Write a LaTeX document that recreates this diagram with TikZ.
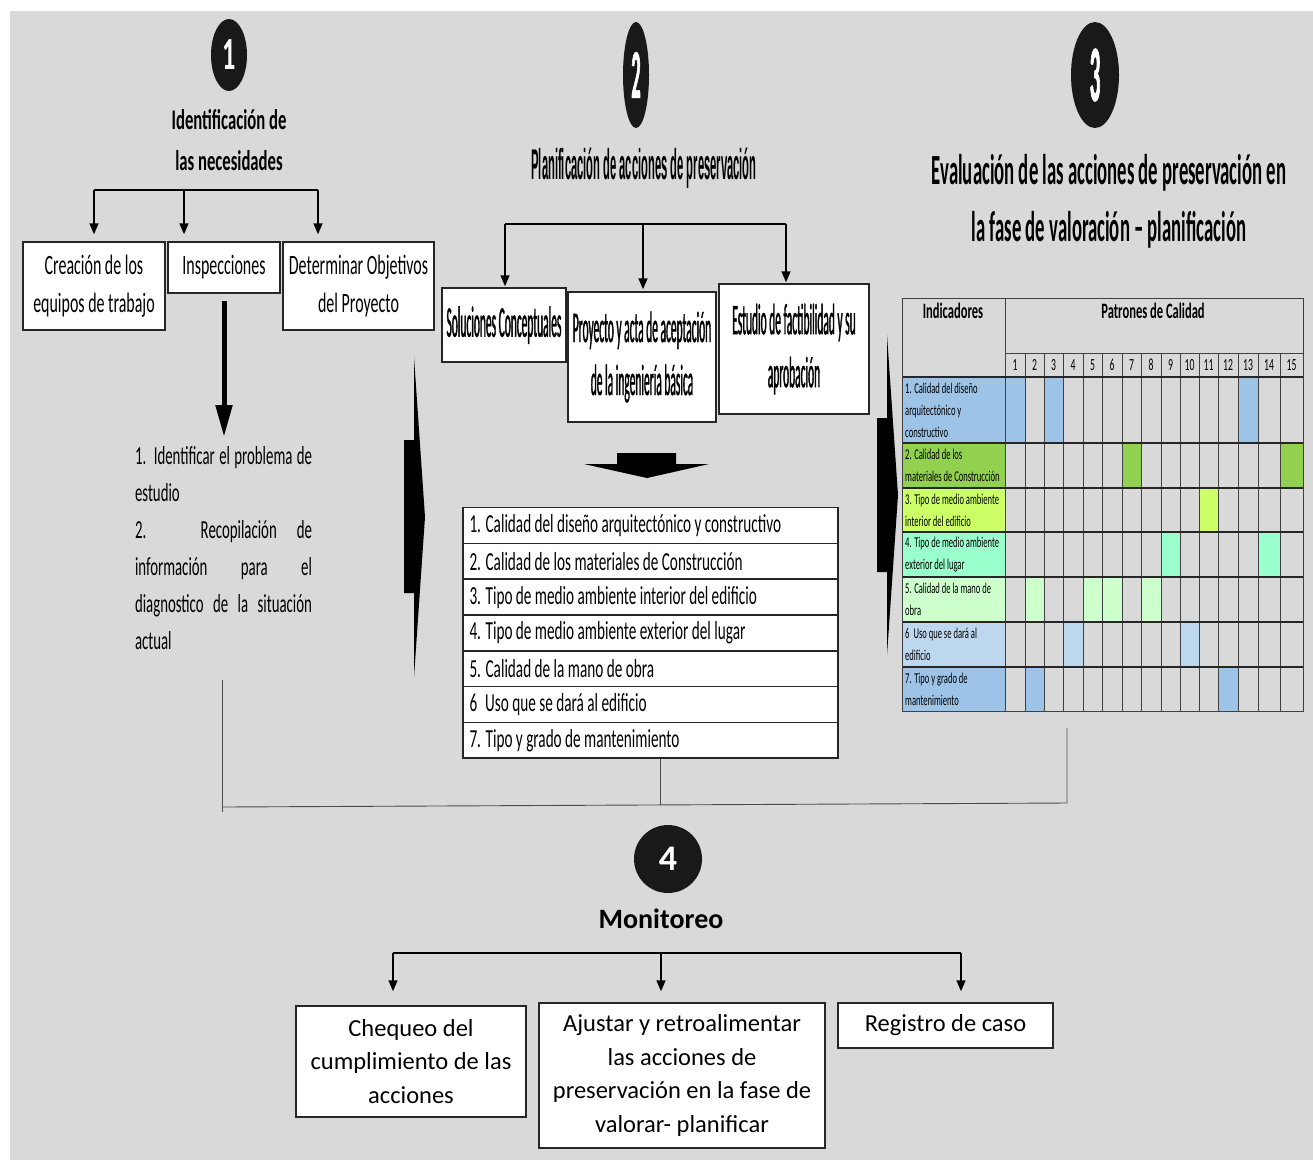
\documentclass[tikz,border=0pt]{standalone}
\usepackage{fontspec}
\setmainfont{Carlito}
\newfontfamily\condA[FakeStretch=0.57]{Carlito}
\newfontfamily\condB[FakeStretch=0.585]{Carlito}
\newfontfamily\condC[FakeStretch=0.26, FakeBold=0.8]{Carlito}
\newfontfamily\condD[FakeStretch=0.435]{Carlito}
\newfontfamily\condE[FakeStretch=0.26]{Liberation Sans}
\usetikzlibrary{arrows.meta}
\usetikzlibrary{shapes.geometric}
\definecolor{bggray}{HTML}{D9D9D9}
\definecolor{cA}{HTML}{9DC3E6}
\definecolor{cB}{HTML}{92D050}
\definecolor{cC}{HTML}{CCFF66}
\definecolor{cD}{HTML}{99FFCC}
\definecolor{cE}{HTML}{CCFFCC}
\definecolor{cF}{HTML}{BDD7EE}

\begin{document}
\begin{tikzpicture}[
  x=1pt, y=-1pt,
  box/.style={draw=black!85, line width=1.5pt, fill=white, inner sep=0pt, align=center},
  box1/.style={box, font=\condA\fontsize{28}{38}\selectfont},
  box2/.style={box, font=\condC\fontsize{44}{53}\selectfont},
  box4/.style={box, font=\fontsize{24.5}{33.5}\selectfont},
  natsp/.style={execute at begin node={\spaceskip=0pt\xspaceskip=0pt}},
  lrow/.style={box, minimum width=375, minimum height=35.8, text width=362, align=left, natsp,
    font=\condB\fontsize{26}{30}\selectfont},
  badge/.style={ellipse, fill=black!90, text=white, inner sep=0pt},
  bracket/.style={line width=1.6pt},
  tip/.style={line width=1.6pt, -{Triangle[width=9pt,length=11pt]}},
  bigtip/.style={line width=5pt, -{Triangle[width=16pt,length=32pt]}},
  joint/.style={draw=black!70, line width=0.9pt},
  grid/.style={draw=black!75, line width=0.9pt},
  rowline/.style={draw=black!85, line width=1.6pt},
  ind/.style={anchor=west, align=left, inner sep=0pt, font=\condA\fontsize{15}{22}\selectfont},
  colnum/.style={inner sep=0pt, font=\condA\fontsize{17}{20}\selectfont},
]

\useasboundingbox (0,0) rectangle (1313,1160);
\fill[white] (0,0) rectangle (1313,1160);
\fill[bggray] (10,11) rectangle (1313,1160);

% step 1
\node[badge, minimum width=36, minimum height=72, font=\condA\bfseries\fontsize{46}{46}\selectfont] (n1) at (229,55) {1};
\node[align=center, font=\condB\bfseries\fontsize{28.5}{41}\selectfont] (t1) at (229,140) {Identificación de\\las necesidades};

\node[box1, minimum width=142, minimum height=88] (crea) at (94,286) {Creación de los\\equipos de trabajo};
\node[box1, minimum width=112, minimum height=51] (insp) at (224,267.5) {Inspecciones};
\node[box1, minimum width=151, minimum height=88] (det) at (358.5,286) {Determinar Objetivos\\del Proyecto};

\coordinate (b1a) at (94,190);
\coordinate (b1b) at (184,190);
\coordinate (b1c) at (318,190);
\draw [bracket] (b1a) -- (b1c);
\draw [tip, shorten >=7pt] (b1a) -- (b1a |- crea.north);
\draw [tip, shorten >=7pt] (b1b) -- (b1b |- insp.north);
\draw [tip, shorten >=7pt] (b1c) -- (b1c |- det.north);

\coordinate (s1) at (224,437);
\draw [bigtip, shorten <=7pt] (insp.south) -- (s1);

\node[align=left, text width=177, inner sep=0pt, natsp, font=\condA\fontsize{26}{37}\selectfont] (pasos) at (223.5,548) {%
  \makebox[177pt][s]{1. Identificar el problema de}\\
  estudio\\
  \makebox[177pt][s]{2. Recopilación de}\\
  \makebox[177pt][s]{información para el}\\
  \makebox[177pt][s]{diagnostico de la situación}\\
  actual};

\fill [black] (414,357) -- (425,517) -- (414,677) -- (414,593) -- (404,593) -- (404,440) -- (414,440) -- cycle;

% step 2
\node[badge, minimum width=26, minimum height=106, font=\condC\bfseries\fontsize{70}{70}\selectfont] (n2) at (636,75) {2};
\node[font=\condE\bfseries\fontsize{43}{43}\selectfont] (t2) at (644,168) {Planificación de acciones de preservación};

\node[box2, minimum width=124, minimum height=74] (sol) at (504,325) {Soluciones Conceptuales};
\node[box2, minimum width=148, minimum height=130] (pro) at (642,357) {Proyecto y acta de aceptación\\de la ingeniería básica};
\node[box2, minimum width=150, minimum height=130] (est) at (794,349) {Estudio de factibilidad y su\\aprobación};

\coordinate (b2a) at (505,224);
\coordinate (b2b) at (643,224);
\coordinate (b2c) at (786,224);
\draw [bracket] (b2a) -- (b2c);
\draw [tip, shorten >=1pt] (b2a) -- (b2a |- sol.north);
\draw [tip, shorten >=2pt] (b2b) -- (b2b |- pro.north);
\draw [tip, shorten >=1pt] (b2c) -- (b2c |- est.north);

\fill [black] (617,453) -- (676,453) -- (676,464) -- (709,464) -- (647,478) -- (584,464) -- (617,464) -- cycle;

\node[lrow] (l1) at (650.5,525.5) {1. Calidad del diseño arquitectónico y constructivo};
\node[lrow] (l2) at (650.5,561.3) {2. Calidad de los materiales de Construcción};
\node[lrow] (l3) at (650.5,597.1) {3. Tipo de medio ambiente interior del edificio};
\node[lrow] (l4) at (650.5,632.9) {4. Tipo de medio ambiente exterior del lugar};
\node[lrow] (l5) at (650.5,668.7) {5. Calidad de la mano de obra};
\node[lrow] (l6) at (650.5,704.5) {6\hspace{8pt}Uso que se dará al edificio};
\node[lrow] (l7) at (650.5,740.3) {7. Tipo y grado de mantenimiento};

\fill [black] (887,335) -- (898,495) -- (887,655) -- (887,572) -- (877,572) -- (877,418) -- (887,418) -- cycle;

% step 3
\node[badge, minimum width=48, minimum height=106, font=\condC\bfseries\fontsize{80}{80}\selectfont] (n3) at (1095,75) {3};
\node[align=center, font=\condD\bfseries\fontsize{43}{57}\selectfont] (t3) at (1109,201) {Evaluación de las acciones de preservación en\\la fase de valoración – planificación};

\def\colx{{1005,1025,1044,1063,1083,1102,1122,1141,1161,1180,1199,1218,1238,1258,1280,1303}}

\foreach \ya/\yb/\cl/\cs in {377/443/cA/{1,3,13}, 443/488/cB/{7,15}, 488/532/cC/{11},
    532/577/cD/{9,14}, 577/622/cE/{2,5,6,8}, 622/667/cF/{4,10}, 667/711/cA/{2,12}} {
  \fill [\cl] (902,\ya) rectangle (1005,\yb);
  \foreach \c in \cs {
    \pgfmathsetmacro\xa{\colx[\c-1]}
    \pgfmathsetmacro\xb{\colx[\c]}
    \fill [\cl] (\xa,\ya) rectangle (\xb,\yb);
  }
}

\foreach \c in {1,...,14} {
  \pgfmathsetmacro\xa{\colx[\c]}
  \draw [grid] (\xa,353) -- (\xa,711);
}
\draw [grid] (1005,298) -- (1005,711);
\draw [grid] (1005,353) -- (1303,353);
\foreach \y in {377,443,488,532,577,622,667}
  \draw [rowline] (902,\y) -- (1303,\y);
\draw [grid] (902,298) rectangle (1303,711);

\node[font=\condA\bfseries\fontsize{22}{26}\selectfont] (hind) at (953,311) {Indicadores};
\node[font=\condA\bfseries\fontsize{22}{26}\selectfont] (hpat) at (1153,311) {Patrones de Calidad};
\foreach \c in {1,...,15} {
  \pgfmathsetmacro\xa{\colx[\c-1]}
  \pgfmathsetmacro\xb{\colx[\c]}
  \pgfmathsetmacro\xm{(\xa+\xb)/2}
  \node[colnum] (p\c) at (\xm,365) {\c};
}

\node[ind] (i1) at (905,410) {1. Calidad del diseño\\arquitectónico y\\constructivo};
\node[ind] (i2) at (905,465.5) {2. Calidad de los\\materiales de Construcción};
\node[ind] (i3) at (905,510) {3. Tipo de medio ambiente\\interior del edificio};
\node[ind] (i4) at (905,554.5) {4. Tipo de medio ambiente\\exterior del lugar};
\node[ind] (i5) at (905,599.5) {5. Calidad de la mano de\\obra};
\node[ind] (i6) at (905,644.5) {6\hspace{4pt}Uso que se dará al\\edificio};
\node[ind] (i7) at (905,689) {7. Tipo y grado de\\mantenimiento};

% joining lines
\coordinate (j1) at (222,680);
\coordinate (j2) at (222,812);
\coordinate (j3) at (222,807);
\coordinate (j4) at (1067,803);
\coordinate (j5) at (1067,728);
\coordinate (j6) at (660,805);
\draw [joint] (j1) -- (j2);
\draw [joint] (j3) -- (j4) -- (j5);
\draw [joint] (j6 |- l7.south) -- (j6);

% step 4
\node[circle, fill=black!90, text=white, inner sep=0pt, minimum size=68, font=\bfseries\fontsize{36}{36}\selectfont] (n4) at (668,859) {4};
\node[font=\bfseries\fontsize{28}{30}\selectfont] (mon) at (661,919) {Monitoreo};

\node[box4, minimum width=230, minimum height=111] (cheq) at (411,1061.5) {Chequeo del\\cumplimiento de las\\acciones};
\node[box4, minimum width=286, minimum height=145] (ajus) at (682,1075.5) {Ajustar y retroalimentar\\las acciones de\\preservación en la fase de\\valorar- planificar};
\node[box4, minimum width=215, minimum height=45] (reg) at (945.5,1025.5) {Registro de caso};

\coordinate (b4a) at (393,953);
\coordinate (b4b) at (661,953);
\coordinate (b4c) at (961,953);
\draw [bracket] (b4a) -- (b4c);
\draw [tip, shorten >=14pt] (b4a) -- (b4a |- cheq.north);
\draw [tip, shorten >=11pt] (b4b) -- (b4b |- ajus.north);
\draw [tip, shorten >=11pt] (b4c) -- (b4c |- reg.north);

\end{tikzpicture}
\end{document}
